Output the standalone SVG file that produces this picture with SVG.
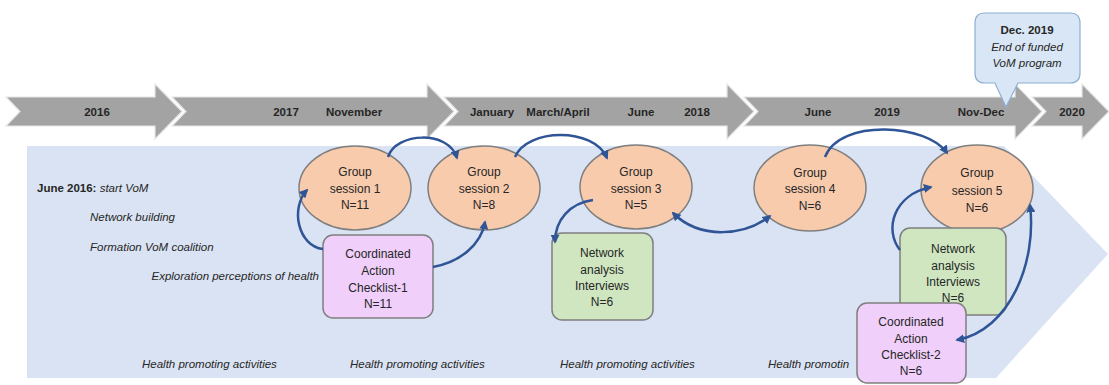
<svg xmlns="http://www.w3.org/2000/svg" width="1109" height="385" viewBox="0 0 1109 385">
<style>
.arr{fill:#a3a3a3;stroke:#e6e6e6;stroke-width:1.2}
.tl{font-family:"Liberation Sans",Arial,sans-serif;font-size:11.5px;font-weight:bold;fill:#262626;text-anchor:middle}
.gs{fill:#f8cbad;stroke:#7f7f7f;stroke-width:1.5}
.pk{fill:#f0cffa;stroke:#7f7f7f;stroke-width:1.5}
.gr{fill:#d0e6c1;stroke:#7f7f7f;stroke-width:1.5}
.nt{font-family:"Liberation Sans",Arial,sans-serif;font-size:12px;fill:#262626;text-anchor:middle}
.it{font-family:"Liberation Sans",Arial,sans-serif;font-size:11.5px;font-style:italic;fill:#262626}
.cn{fill:none;stroke:#2f5597;stroke-width:2.5}
</style>
<defs>
<marker id="ah" viewBox="0 0 10 10" refX="8" refY="5" markerWidth="9" markerHeight="9" markerUnits="userSpaceOnUse" orient="auto-start-reverse">
<path d="M0,0 L10,5 L0,10 z" fill="#2f5597"/>
</marker>
</defs>

<g id="background">
<path d="M27,146 L1004,146 L1108,254 L996,378 L27,378 z" fill="#dae3f3"/>
</g>

<g id="timeline">
<path class="arr" d="M6,97 L155,97 L155,84 L182,111.5 L155,139 L155,126 L6,126 L20,111.5 z"/>
<path class="arr" d="M172,97 L427,97 L427,84 L454,111.5 L427,139 L427,126 L172,126 L186,111.5 z"/>
<path class="arr" d="M444,97 L727,97 L727,84 L754,111.5 L727,139 L727,126 L444,126 L458,111.5 z"/>
<path class="arr" d="M744,97 L1015,97 L1015,84 L1042,111.5 L1015,139 L1015,126 L744,126 L758,111.5 z"/>
<path class="arr" d="M1032,97 L1082,97 L1082,84 L1109,111.5 L1082,139 L1082,126 L1032,126 L1046,111.5 z"/>
<text class="tl" x="97" y="115.5">2016</text>
<text class="tl" x="286" y="115.5">2017</text>
<text class="tl" x="354" y="115.5">November</text>
<text class="tl" x="492" y="115.5">January</text>
<text class="tl" x="558" y="115.5">March/April</text>
<text class="tl" x="641" y="115.5">June</text>
<text class="tl" x="697" y="115.5">2018</text>
<text class="tl" x="818" y="115.5">June</text>
<text class="tl" x="887" y="115.5">2019</text>
<text class="tl" x="981" y="115.5">Nov-Dec</text>
<text class="tl" x="1072" y="115.5">2020</text>
</g>

<g id="callout">
<path d="M985,13 L1070,13 Q1080,13 1080,23 L1080,73 Q1080,83 1070,83 L1018,83 L1006,107 L995,83 L985,83 Q975,83 975,73 L975,23 Q975,13 985,13 z" fill="#d9e6f5" stroke="#8eaed4" stroke-width="1.2"/>
<text class="tl" x="1027" y="34">Dec. 2019</text>
<text class="it" x="1027" y="51" text-anchor="middle">End of funded</text>
<text class="it" x="1027" y="67" text-anchor="middle">VoM program</text>
</g>

<g id="left-notes">
<text class="it" x="37" y="192"><tspan font-weight="bold" font-style="normal">June 2016:</tspan> start VoM</text>
<text class="it" x="90" y="221">Network building</text>
<text class="it" x="90" y="251">Formation VoM coalition</text>
<text class="it" x="319" y="280" text-anchor="end">Exploration perceptions of health</text>
</g>

<g id="activities">
<text class="it" x="142" y="368">Health promoting activities</text>
<text class="it" x="350" y="368">Health promoting activities</text>
<text class="it" x="560" y="368">Health promoting activities</text>
<text class="it" x="768" y="368">Health promotin</text>
</g>

<g id="session1">
<ellipse class="gs" cx="355" cy="188" rx="56" ry="42"/>
<text class="nt" x="355" y="176">Group</text>
<text class="nt" x="355" y="193">session 1</text>
<text class="nt" x="355" y="209">N=11</text>
</g>
<g id="session2">
<ellipse class="gs" cx="484" cy="188" rx="56" ry="42"/>
<text class="nt" x="484" y="176">Group</text>
<text class="nt" x="484" y="193">session 2</text>
<text class="nt" x="484" y="209">N=8</text>
</g>
<g id="session3">
<ellipse class="gs" cx="636" cy="187" rx="56" ry="42"/>
<text class="nt" x="636" y="176">Group</text>
<text class="nt" x="636" y="193">session 3</text>
<text class="nt" x="636" y="209">N=5</text>
</g>
<g id="session4">
<ellipse class="gs" cx="810" cy="188" rx="56" ry="43"/>
<text class="nt" x="810" y="177">Group</text>
<text class="nt" x="810" y="193">session 4</text>
<text class="nt" x="810" y="210">N=6</text>
</g>
<g id="session5">
<ellipse class="gs" cx="977" cy="189" rx="56" ry="44"/>
<text class="nt" x="977" y="177">Group</text>
<text class="nt" x="977" y="195">session 5</text>
<text class="nt" x="977" y="212">N=6</text>
</g>

<g id="checklist1">
<rect class="pk" x="323" y="235" width="110" height="83" rx="10"/>
<text class="nt" x="378" y="258">Coordinated</text>
<text class="nt" x="378" y="275">Action</text>
<text class="nt" x="378" y="292">Checklist-1</text>
<text class="nt" x="378" y="308">N=11</text>
</g>
<g id="network1">
<rect class="gr" x="552" y="233" width="101" height="87" rx="10"/>
<text class="nt" x="602" y="257">Network</text>
<text class="nt" x="602" y="274">analysis</text>
<text class="nt" x="602" y="290">Interviews</text>
<text class="nt" x="602" y="306">N=6</text>
</g>
<g id="network2">
<rect class="gr" x="900" y="228" width="106" height="87" rx="10"/>
<text class="nt" x="953" y="253">Network</text>
<text class="nt" x="953" y="270">analysis</text>
<text class="nt" x="953" y="286">Interviews</text>
<text class="nt" x="953" y="302">N=6</text>
</g>
<g id="checklist2">
<rect class="pk" x="857" y="303" width="109" height="80" rx="10"/>
<text class="nt" x="911" y="326">Coordinated</text>
<text class="nt" x="911" y="343">Action</text>
<text class="nt" x="911" y="359">Checklist-2</text>
<text class="nt" x="911" y="375">N=6</text>
</g>

<g id="connectors">
<path class="cn" d="M388,157 C396,132 449,130 457,158" marker-end="url(#ah)"/>
<path class="cn" d="M515,157 C527,128 594,127 607,158" marker-end="url(#ah)"/>
<path class="cn" d="M673,213 C700,240 745,236 770,216" marker-start="url(#ah)" marker-end="url(#ah)"/>
<path class="cn" d="M825,157 C840,118 928,124 947,153" marker-end="url(#ah)"/>
<path class="cn" d="M323,249 C298,246 290,208 307,190" marker-end="url(#ah)"/>
<path class="cn" d="M433,267 C460,262 481,245 485,222" marker-end="url(#ah)"/>
<path class="cn" d="M593,200 C570,203 555,220 555,242" marker-end="url(#ah)"/>
<path class="cn" d="M900,250 C884,230 893,195 931,187" marker-end="url(#ah)"/>
<path class="cn" d="M957,340 C1010,330 1037,262 1030,205" marker-start="url(#ah)" marker-end="url(#ah)"/>
</g>
</svg>
